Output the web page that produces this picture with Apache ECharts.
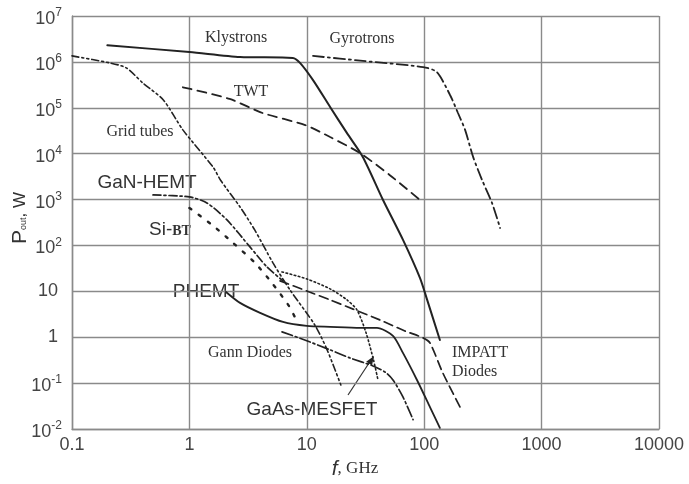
<!DOCTYPE html>
<html><head><meta charset="utf-8">
<script src="https://cdn.jsdelivr.net/npm/echarts@6/dist/echarts.min.js"></script>
<style>html,body{margin:0;padding:0;background:#fff}#c{width:689px;height:484px}</style>
</head><body><div id="c"></div>
<script>
// ---- data (frequency GHz, output power W) ----
const xTickLabels = ['0.1', '1', '10', '100', '1000', '10000'];
const yTickLabels = ['10^-2', '10^-1', '1', '10', '10^2', '10^3', '10^4', '10^5', '10^6', '10^7'];

const klystronsF = [0.2, 1, 2.7, 7.6, 8.75, 11.3, 15.8, 22, 30, 44.6, 66, 92, 106, 136];
const klystronsP = [2.3e6, 1.64e6, 1.28e6, 1.22e6, 9.5e5, 4.0e5, 1.04e5, 2.8e4, 8.5e3, 980, 132, 19.6, 6.5, 0.87];

const gyrotronsF = [11.3, 30, 98, 128, 166, 194, 223, 261, 311, 378, 443];
const gyrotronsP = [1.35e6, 1.05e6, 7.7e5, 6.0e5, 1.9e5, 7.7e4, 3.3e4, 8.5e3, 2.67e3, 844, 240];

const twtF = [0.88, 2.2, 4.2, 9.7, 15.8, 28.4, 51, 92];
const twtP = [2.8e5, 1.56e5, 7.7e4, 4.2e4, 2.3e4, 1.03e4, 3.4e3, 980];

const gridTubesF = [0.1, 0.21, 0.29, 0.4, 0.6, 0.88, 1.59, 1.85, 2.7, 3.6, 5.15, 7.2, 11.7, 14.9, 19.5];
const gridTubesP = [1.35e6, 9.5e5, 7.4e5, 3.5e5, 1.48e5, 3.3e4, 5.1e3, 2.6e3, 690, 218, 41.6, 10.7, 1.85, 0.53, 0.091];

const ganHemtF = [0.49, 1.0, 1.41, 2.09, 3.28, 4.58, 6.27];
const ganHemtP = [1260, 1140, 844, 360, 93, 34, 16.9];

const siBtF = [1.0, 1.56, 2.35, 3.62, 5.05, 7.05, 7.9];
const siBtP = [656, 280, 114, 41.6, 15.2, 4.8, 2.77];

const phemtF = [2.05, 2.7, 4.0, 6.27, 10, 15.8, 28.4, 39.6, 54.2, 65.9, 86.8, 112, 136];
const phemtP = [9.7, 5.6, 3.4, 2.15, 1.76, 1.68, 1.6, 1.6, 1.07, 0.455, 0.117, 0.030, 0.0106];

const gannF = [6.15, 9.6, 15.8, 23.3, 36.6, 46.3, 54.2, 65.9, 80.4];
const gannP = [1.31, 0.87, 0.53, 0.354, 0.237, 0.175, 0.117, 0.05, 0.016];

const impattF = [5.92, 10, 15.8, 24.8, 42, 68.5, 97.7, 112, 144, 202];
const impattP = [16.9, 10.2, 6.5, 4.1, 2.38, 1.37, 0.97, 0.75, 0.167, 0.030];

const mesfetF = [6.15, 10, 15.8, 22, 26.8, 32, 37, 40.4];
const mesfetP = [26.5, 18.6, 11.3, 6.5, 3.9, 1.24, 0.32, 0.117];

// ---- chart ----
const zip = (f, p) => f.map((v, i) => [v, p[i]]);
const INK = '#222';
function line(name, f, p, dash, width) {
  return {
    name, type: 'line', data: zip(f, p), showSymbol: false, symbol: 'none',
    smooth: 0.25, silent: true,
    lineStyle: { color: INK, width: width || 1.8, type: dash || 'solid', cap: 'round' }
  };
}
const SANS = '"Liberation Sans", Arial, sans-serif';
const SERIF = '"Liberation Serif", "Times New Roman", serif';
const chart = echarts.init(document.getElementById('c'), null, { renderer: 'canvas' });

function yLabel(v) {
  const e = Math.round(Math.log10(v));
  const s = yTickLabels[e + 2] || '';
  if (s.indexOf('^') >= 0) {
    const parts = s.split('^');
    return '{b|' + parts[0] + '}{s|' + parts[1] + '}';
  }
  return '{p|' + s + '}';
}
function xLabel(v) {
  const e = Math.round(Math.log10(v));
  return xTickLabels[e + 1] || '';
}

const gridColor = '#8a8a8a';
const txt = (text, x, y, font, extra) => Object.assign({
  type: 'text', x, y, silent: true,
  style: Object.assign({ text, font, fill: '#333', align: 'center', verticalAlign: 'middle' }, extra || {})
});

chart.setOption({
  animation: false,
  backgroundColor: '#fff',
  grid: { left: 72, right: 30, top: 16, bottom: 55, containLabel: false },
  xAxis: {
    type: 'log', logBase: 10, min: 0.1, max: 10000,
    axisLine: { show: true, lineStyle: { color: gridColor, width: 1.4 } },
    axisTick: { show: false },
    splitLine: { show: true, lineStyle: { color: gridColor, width: 1.4 } },
    minorSplitLine: { show: false },
    axisLabel: { formatter: xLabel, fontFamily: SANS, fontSize: 18, color: '#444', margin: 7 }
  },
  yAxis: {
    type: 'log', logBase: 10, min: 0.01, max: 1e7,
    axisLine: { show: true, lineStyle: { color: gridColor, width: 1.4 } },
    axisTick: { show: false },
    splitLine: { show: true, lineStyle: { color: gridColor, width: 1.4 } },
    axisLabel: {
      formatter: yLabel, margin: 10, color: '#444',
      rich: {
        b: { fontFamily: SANS, fontSize: 18, color: '#444', padding: [6, 0, 0, 0] },
        s: { fontFamily: SANS, fontSize: 12, color: '#444', padding: [0, 0, 6, 0] },
        p: { fontFamily: SANS, fontSize: 18, color: '#444', padding: [0, 4, 0, 0] }
      }
    }
  },
  series: [
    line('Klystrons', klystronsF, klystronsP, 'solid', 2),
    line('Gyrotrons', gyrotronsF, gyrotronsP, [11, 4, 2, 4], 1.8),
    line('TWT', twtF, twtP, [9, 6], 1.8),
    line('Grid tubes', gridTubesF, gridTubesP, [7, 3, 2, 3, 2, 3], 1.6),
    line('GaN-HEMT', ganHemtF, ganHemtP, [8, 3, 2, 3], 1.7),
    line('Si-BT', siBtF, siBtP, [2.5, 9], 2.4),
    line('PHEMT', phemtF, phemtP, 'solid', 1.8),
    line('Gann Diodes', gannF, gannP, [11, 3, 2, 3], 1.7),
    line('IMPATT Diodes', impattF, impattP, [9, 5], 1.7),
    line('GaAs-MESFET', mesfetF, mesfetP, [1.6, 2.6], 1.6)
  ],
  graphic: [
    txt('Klystrons', 236, 38, '16px ' + SERIF),
    txt('Gyrotrons', 362, 39, '16px ' + SERIF),
    txt('TWT', 251, 92, '16px ' + SERIF),
    txt('Grid tubes', 140, 132, '16px ' + SERIF),
    txt('GaN-HEMT', 147, 183, '19px ' + SANS),
    txt('{a|Si-}{b|BT}', 170, 230, '19px ' + SANS, {
      rich: { a: { font: '19px ' + SANS, fill: '#333' }, b: { font: 'bold 14px ' + SERIF, fill: '#333', padding: [3, 0, 0, 0] } }
    }),
    txt('PHEMT', 206, 292, '19px ' + SANS),
    txt('Gann Diodes', 250, 353, '16px ' + SERIF),
    txt('IMPATT', 452, 353, '16px ' + SERIF, { align: 'left' }),
    txt('Diodes', 452, 372, '16px ' + SERIF, { align: 'left' }),
    txt('GaAs-MESFET', 312, 410, '19px ' + SANS),
    { type: 'line', silent: true, shape: { x1: 348, y1: 395, x2: 371, y2: 360 }, style: { stroke: '#333', lineWidth: 1.2 } },
    { type: 'polygon', silent: true, shape: { points: [[374, 356], [372, 365.5], [366.2, 361.7]] }, style: { fill: '#222' } },
    {
      type: 'text', x: 20, y: 218, rotation: Math.PI / 2, silent: true,
      style: {
        text: '{p|P}{s|out}{w|, W}', align: 'center', verticalAlign: 'middle',
        rich: {
          p: { font: '21px ' + SANS, fill: '#333' },
          s: { font: '9px ' + SANS, fill: '#333', padding: [8, 0, 0, 0] },
          w: { font: '17px ' + SANS, fill: '#333' }
        }
      }
    },
    {
      type: 'text', x: 355, y: 469, silent: true,
      style: {
        text: '{f|f}{g|, GHz}', align: 'center', verticalAlign: 'middle',
        rich: {
          f: { font: 'italic 21px ' + SANS, fill: '#333' },
          g: { font: '17px ' + SERIF, fill: '#333' }
        }
      }
    }
  ]
});
</script>
</body></html>
